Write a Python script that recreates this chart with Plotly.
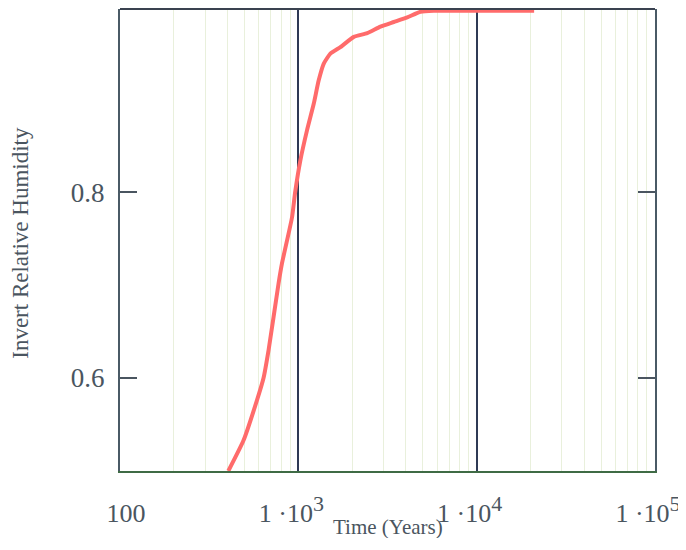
import plotly.graph_objects as go

# Data
time_years = [405, 493, 586, 638, 681, 775, 809, 922, 960, 1026, 1120, 1220, 1300,
              1387, 1512, 1722, 2047, 2433, 2888, 3431, 4079, 4843, 5750, 21000]
inv_rh = [0.500, 0.533, 0.576, 0.600, 0.630, 0.702, 0.723, 0.773, 0.800, 0.834, 0.867,
          0.895, 0.920, 0.938, 0.949, 0.956, 0.967, 0.971, 0.978, 0.983, 0.988, 0.994,
          0.995, 0.995]

x_tickvals = [100, 1000, 10000, 100000]
x_ticktext = ["\u00a0\u00a0\u00a0\u00a0100",
              "1 ·10<sup><span style='font-size:22px'>3</span></sup>",
              "1 ·10<sup><span style='font-size:22px'>4</span></sup>",
              "1 ·10<sup><span style='font-size:22px'>5</span></sup>"]
minor_digits = [2, 3, 4, 5, 6, 7, 8, 9]
decades = [100, 1000, 10000]
y_tickvals = [0.6, 0.8]
y_ticktext = ["0.6", "0.8"]

minor_vals = [d * m for d in decades for m in minor_digits]

FONT = "Liberation Serif, Times New Roman, serif"
TXT = "#4a5560"

fig = go.Figure()
fig.add_trace(go.Scatter(
    x=time_years, y=inv_rh, mode="lines",
    line=dict(color="#ff6b6b", width=4, shape="spline", smoothing=0.5),
    showlegend=False, hoverinfo="skip"))

fig.update_layout(
    width=678, height=530, autosize=False,
    margin=dict(l=112, r=31, t=1, b=67),
    paper_bgcolor="white", plot_bgcolor="white",
    font=dict(family=FONT, color=TXT),
    xaxis=dict(
        type="log", range=[2, 5],
        tickvals=x_tickvals, ticktext=x_ticktext,
        tickfont=dict(size=26, family=FONT, color=TXT),
        ticks="", ticklabelstandoff=18, ticklabelshift=-7, ticklabeloverflow="allow",
        showgrid=True, gridcolor="#2f3a55", gridwidth=2,
        minor=dict(tickvals=minor_vals, showgrid=True, gridcolor="#e9f0dc", gridwidth=1, ticks=""),
        showline=True, linecolor="#3f6b45", linewidth=2, mirror=False,
        zeroline=False,
    ),
    yaxis=dict(
        range=[0.5, 0.997],
        tickvals=y_tickvals, ticktext=y_ticktext,
        tickfont=dict(size=27, family=FONT, color=TXT),
        ticks="inside", ticklen=17, tickwidth=2, tickcolor="#4a5560",
        ticklabelstandoff=8,
        showgrid=False, zeroline=False,
        showline=True, linecolor="#4a5a66", linewidth=2, mirror="ticks",
    ),
    shapes=[dict(type="line", xref="paper", yref="paper", x0=0, x1=1, y0=1, y1=1,
                 line=dict(color="#3a4250", width=2))],
    annotations=[
        dict(text="Time (Years)", xref="paper", yref="paper", x=0.5, y=0,
             xanchor="center", yanchor="middle", yshift=-56, showarrow=False,
             font=dict(size=21, family=FONT, color=TXT)),
        dict(text="Invert Relative Humidity", xref="paper", yref="paper", x=0, y=0.494,
             xanchor="center", yanchor="middle", xshift=-99, textangle=-90, showarrow=False,
             font=dict(size=23, family=FONT, color=TXT)),
    ],
)

fig.write_html("out.html")
